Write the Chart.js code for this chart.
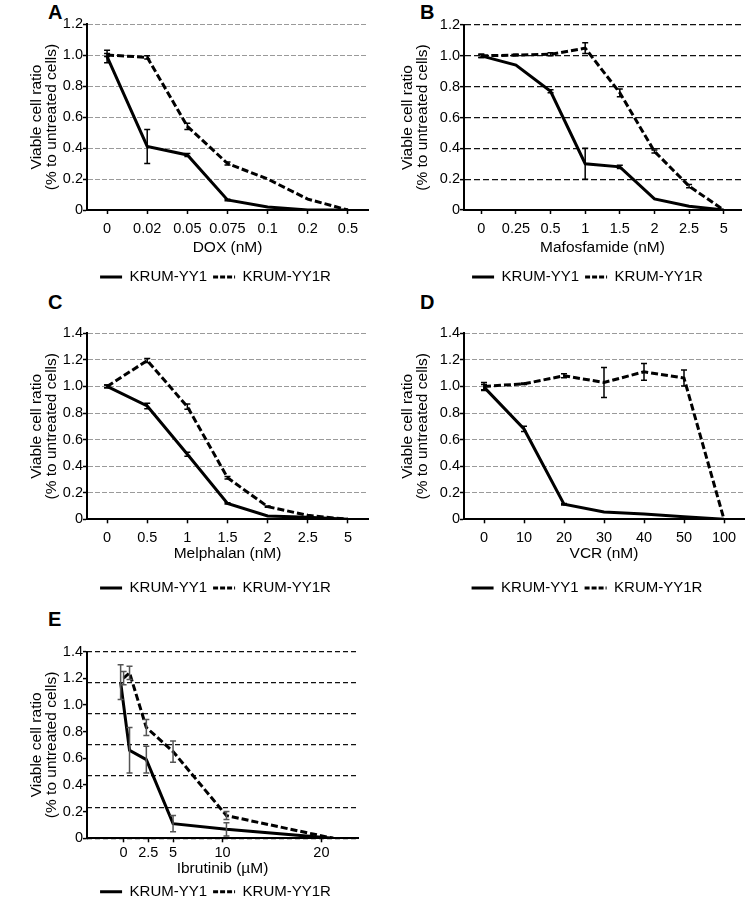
<!DOCTYPE html>
<html>
<head>
<meta charset="utf-8">
<script src="https://cdn.jsdelivr.net/npm/chart.js@4.4.1/dist/chart.umd.min.js"></script>
<style>
  html, body { margin: 0; padding: 0; background: #fff; overflow: hidden; width: 756px; height: 905px; }
  canvas { position: absolute; }
  .tag { position: absolute; font: bold 20px "Liberation Sans", Arial, sans-serif; line-height: 20px; color: #000; }
</style>
</head>
<body>
<div class="tag" style="left:48px;top:2px">A</div>
<div class="tag" style="left:420px;top:2px">B</div>
<div class="tag" style="left:48px;top:292px">C</div>
<div class="tag" style="left:420px;top:292px">D</div>
<div class="tag" style="left:48px;top:609px">E</div>

<canvas id="chartA" width="378" height="300" style="left:0;top:0"></canvas>
<canvas id="chartB" width="378" height="300" style="left:378px;top:0"></canvas>
<canvas id="chartC" width="378" height="320" style="left:0;top:290px"></canvas>
<canvas id="chartD" width="378" height="320" style="left:378px;top:290px"></canvas>
<canvas id="chartE" width="378" height="320" style="left:0;top:590px"></canvas>

<script>
const seriesNames = ["KRUM-YY1", "KRUM-YY1R"];
const yTitle = ["Viable cell ratio", "(% to untreated cells)"];
const yTicks12 = ["0", "0.2", "0.4", "0.6", "0.8", "1.0", "1.2"];
const yTicks14 = ["0", "0.2", "0.4", "0.6", "0.8", "1.0", "1.2", "1.4"];

// A - DOX
const doxDoses = ["0", "0.02", "0.05", "0.075", "0.1", "0.2", "0.5"];
const doxYY1 = [0.99, 0.41, 0.355, 0.065, 0.02, 0.0, 0.0];
const doxYY1Err = [0.04, 0.11, 0.01, 0.005, 0, 0, 0];
const doxYY1R = [1.0, 0.985, 0.54, 0.30, 0.20, 0.07, 0.0];
const doxYY1RErr = [0.01, 0.01, 0.02, 0.01, 0, 0, 0];

// B - Mafosfamide
const mafDoses = ["0", "0.25", "0.5", "1", "1.5", "2", "2.5", "5"];
const mafYY1 = [1.0, 0.94, 0.77, 0.30, 0.28, 0.072, 0.025, 0.0];
const mafYY1Err = [0.01, 0, 0.01, 0.1, 0.01, 0, 0, 0];
const mafYY1R = [1.0, 1.005, 1.01, 1.05, 0.76, 0.38, 0.155, 0.0];
const mafYY1RErr = [0.01, 0.005, 0.01, 0.035, 0.025, 0.01, 0.01, 0];

// C - Melphalan
const melDoses = ["0", "0.5", "1", "1.5", "2", "2.5", "5"];
const melYY1 = [1.0, 0.853, 0.49, 0.12, 0.025, 0.015, 0.0];
const melYY1Err = [0.01, 0.02, 0.015, 0.005, 0, 0, 0];
const melYY1R = [1.0, 1.195, 0.848, 0.313, 0.095, 0.03, 0.0];
const melYY1RErr = [0.01, 0.015, 0.02, 0.01, 0.005, 0, 0];

// D - VCR
const vcrDoses = ["0", "10", "20", "30", "40", "50", "100"];
const vcrYY1 = [0.995, 0.68, 0.113, 0.055, 0.04, 0.02, 0.0];
const vcrYY1Err = [0.02, 0.02, 0.005, 0, 0, 0, 0];
const vcrYY1R = [1.0, 1.02, 1.08, 1.03, 1.11, 1.063, 0.0];
const vcrYY1RErr = [0.03, 0.005, 0.015, 0.113, 0.063, 0.06, 0];

// E - Ibrutinib (uM, linear axis)
const ibrTicks = [0, 2.5, 5, 10, 20];
const ibrYY1X = [-0.3, 0.6, 2.3, 5, 10.4, 21.2];
const ibrYY1 = [1.17, 0.66, 0.59, 0.11, 0.067, 0.0];
const ibrYY1Err = [0.13, 0.17, 0.1, 0.06, 0.05, 0];
const ibrYY1RX = [0, 0.6, 2.3, 5, 10.4, 21.2];
const ibrYY1R = [1.2, 1.24, 0.83, 0.65, 0.17, 0.0];
const ibrYY1RErr = [0.05, 0.05, 0.06, 0.08, 0.03, 0];

Chart.defaults.font.family = '"Liberation Sans", Arial, sans-serif';
Chart.defaults.color = "#000";

const errorBars = {
  id: "errorBars",
  afterDatasetsDraw(chart, args, opts) {
    const ctx = chart.ctx;
    const ys = chart.scales.y;
    ctx.save();
    ctx.strokeStyle = opts.color || "#000";
    ctx.lineWidth = 1.5;
    chart.data.datasets.forEach((ds, di) => {
      const meta = chart.getDatasetMeta(di);
      (ds.errors || []).forEach((e, i) => {
        if (!e) return;
        const d = ds.data[i];
        const v = typeof d === "object" ? d.y : d;
        const x = meta.data[i].x;
        const y1 = ys.getPixelForValue(v + e);
        const y2 = ys.getPixelForValue(v - e);
        ctx.beginPath();
        ctx.moveTo(x, y1); ctx.lineTo(x, y2);
        ctx.moveTo(x - 3, y1); ctx.lineTo(x + 3, y1);
        ctx.moveTo(x - 3, y2); ctx.lineTo(x + 3, y2);
        ctx.stroke();
      });
    });
    ctx.restore();
  }
};

// nudge the legend sideways after layout
const legendShift = {
  id: "legendShift",
  afterLayout(chart, args, opts) {
    if (chart.legend && opts.dx) {
      chart.legend.left += opts.dx;
      chart.legend.right += opts.dx;
    }
  }
};

function makeChart(id, p) {
  const linearX = !!p.xTicks;
  const datasets = p.series.map((s, k) => ({
    label: seriesNames[k],
    data: linearX ? s.y.map((v, i) => ({x: s.x[i], y: v})) : s.y,
    errors: s.err,
    borderColor: "#000",
    borderWidth: 3,
    borderDash: k === 1 ? [7, 3] : [],
    pointRadius: 0,
    pointHoverRadius: 0,
    tension: 0,
    fill: false,
    yAxisID: "y"
  }));

  const xScale = {
    border: {display: true, color: "#000", width: 2},
    grid: {drawOnChartArea: false, drawTicks: true, tickLength: 4, tickColor: "#000", tickWidth: 1.5, offset: false},
    ticks: {font: {size: 14.5}, padding: p.xTickPad, maxRotation: 0, autoSkip: false, color: "#000"},
    title: {display: true, text: p.xTitle, font: {size: 15.5}, padding: {top: 0, bottom: p.xTitlePad}, color: "#000"},
    afterFit: s => { s.height = p.xAxisH; }
  };
  if (linearX) {
    Object.assign(xScale, {
      type: "linear", min: p.xMin, max: p.xMax,
      afterBuildTicks: s => { s.ticks = p.xTicks.map(v => ({value: v})); }
    });
    xScale.ticks.callback = v => String(v);
  } else {
    Object.assign(xScale, {type: "category", labels: p.labels, offset: true});
  }

  const yLabels = p.yMax > 1.3 ? yTicks14 : yTicks12;
  const scales = {
    x: xScale,
    y: {
      type: "linear", min: 0, max: p.yMax,
      border: {display: true, color: "#000", width: 2, dash: p.gridDash},
      grid: {
        drawOnChartArea: !p.separateGrid, color: p.gridColor, lineWidth: p.gridWidth,
        drawTicks: true, tickLength: 4, tickColor: "#000", tickWidth: 1.5
      },
      ticks: {stepSize: 0.2, font: {size: 14.5}, padding: 0, color: "#000",
              callback: (v, i) => yLabels[i]},
      title: {display: true, text: yTitle, font: {size: 15.5, lineHeight: 0.97},
              padding: {top: p.yTitlePad, bottom: 0}, color: "#000"},
      afterFit: s => { s.width = p.yAxisW; }
    }
  };
  if (p.separateGrid) {
    scales.yGrid = {
      type: "linear", position: "left", min: 0, max: p.yMax,
      border: {display: false, dash: p.gridDash},
      grid: {drawOnChartArea: true, drawTicks: false, color: p.gridColor, lineWidth: p.gridWidth},
      ticks: {display: false, stepSize: p.yMax / p.separateGrid},
      afterFit: s => { s.width = 0; }
    };
  }

  return new Chart(document.getElementById(id), {
    type: "line",
    data: {labels: linearX ? undefined : p.labels, datasets},
    options: {
      responsive: false,
      animation: false,
      layout: {padding: p.pad},
      scales,
      plugins: {
        tooltip: {enabled: false},
        errorBars: {color: p.errColor || "#000"},
        legendShift: {dx: p.legendDx},
        legend: {
          position: "bottom",
          fullSize: false,
          labels: {
            usePointStyle: true,
            pointStyle: "line",
            pointStyleWidth: 22,
            padding: 6,
            color: "#000",
            font: {size: 15},
            generateLabels: chart => Chart.defaults.plugins.legend.labels.generateLabels(chart)
              .map((it, k) => Object.assign(it, {lineDash: k === 1 ? [5, 2] : [], lineWidth: 3, pointStyle: "line"}))
          }
        }
      }
    },
    plugins: [errorBars, legendShift]
  });
}

makeChart("chartA", {
  labels: doxDoses, xTitle: "DOX (nM)", yMax: 1.2,
  series: [{y: doxYY1, err: doxYY1Err}, {y: doxYY1R, err: doxYY1RErr}],
  pad: {top: 24, right: 10, bottom: 5.5, left: 0},
  yAxisW: 87, yTitlePad: 29.5, xAxisH: 53.5, xTickPad: 6.3, xTitlePad: 6.2,
  gridColor: "#9a9a9a", gridWidth: 1, gridDash: [5, 2], legendDx: -12
});

makeChart("chartB", {
  labels: mafDoses, xTitle: "Mafosfamide (nM)", yMax: 1.2,
  series: [{y: mafYY1, err: mafYY1Err}, {y: mafYY1R, err: mafYY1RErr}],
  pad: {top: 25, right: 15, bottom: 5.5, left: 0},
  yAxisW: 86, yTitlePad: 22.5, xAxisH: 53.5, xTickPad: 6.3, xTitlePad: 6.2,
  gridColor: "#111", gridWidth: 1.3, gridDash: [6, 3], legendDx: -15
});

makeChart("chartC", {
  labels: melDoses, xTitle: "Melphalan (nM)", yMax: 1.4,
  series: [{y: melYY1, err: melYY1Err}, {y: melYY1R, err: melYY1RErr}],
  pad: {top: 43.3, right: 10, bottom: 4.5, left: 0},
  yAxisW: 87, yTitlePad: 29.5, xAxisH: 55.2, xTickPad: 6.0, xTitlePad: 11.2,
  gridColor: "#9a9a9a", gridWidth: 1, gridDash: [5, 2], legendDx: -12
});

makeChart("chartD", {
  labels: vcrDoses, xTitle: "VCR (nM)", yMax: 1.4,
  series: [{y: vcrYY1, err: vcrYY1Err}, {y: vcrYY1R, err: vcrYY1RErr}],
  pad: {top: 43.3, right: 12, bottom: 4.5, left: 0},
  yAxisW: 86, yTitlePad: 22.5, xAxisH: 55.2, xTickPad: 6.0, xTitlePad: 11.2,
  gridColor: "#9a9a9a", gridWidth: 1, gridDash: [5, 2], legendDx: -17
});

makeChart("chartE", {
  xTicks: ibrTicks, xMin: -3.7, xMax: 23.7, xTitle: "Ibrutinib (\u00b5M)", yMax: 1.4,
  series: [{x: ibrYY1X, y: ibrYY1, err: ibrYY1Err}, {x: ibrYY1RX, y: ibrYY1R, err: ibrYY1RErr}],
  pad: {top: 61.5, right: 20, bottom: 0.8, left: 0},
  yAxisW: 87, yTitlePad: 29.5, xAxisH: 39.9, xTickPad: 2.0, xTitlePad: 0,
  gridColor: "#111", gridWidth: 1.2, gridDash: [5, 3], separateGrid: 6, errColor: "#555", legendDx: -7
});
</script>
</body>
</html>
